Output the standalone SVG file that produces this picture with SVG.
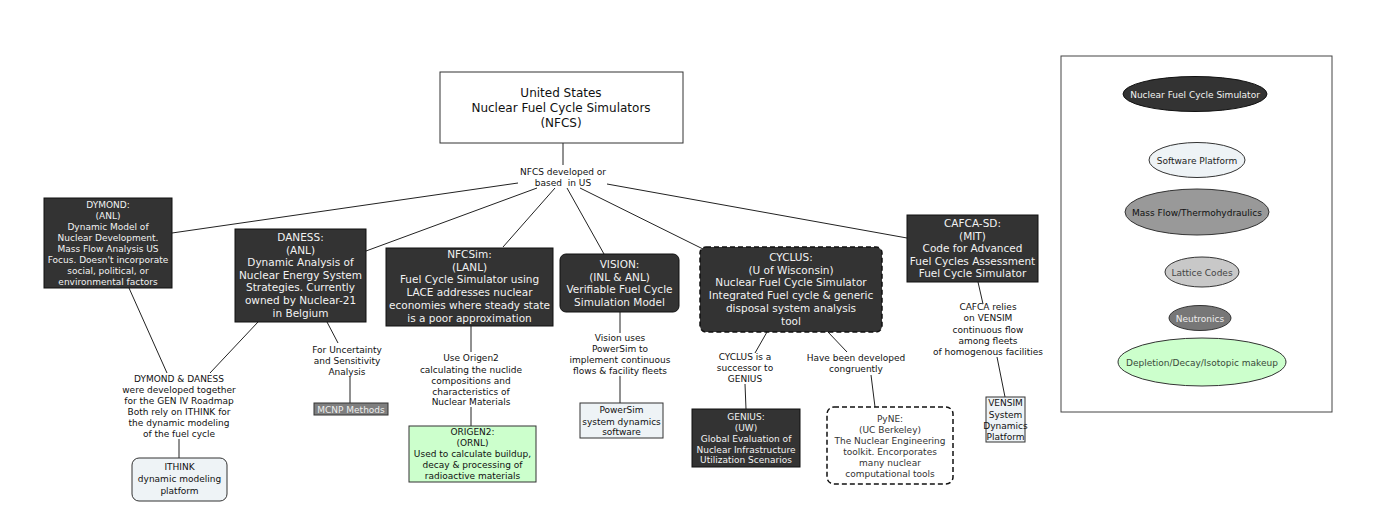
<svg xmlns="http://www.w3.org/2000/svg" width="1378" height="527" viewBox="0 0 1378 527">
<style>
text{font-family:"DejaVu Sans","Liberation Sans",sans-serif;text-anchor:middle}
.big{font-size:10.5px;fill:#f2f2f2}
.sm{font-size:9px;fill:#111}
.smw{font-size:9px;fill:#f2f2f2}
.dark{fill:#333;stroke:#111;stroke-width:1}
.pale{fill:#eef3f6;stroke:#333;stroke-width:1}
.green{fill:#ccffcc;stroke:#333;stroke-width:1}
.dash{stroke-dasharray:5,3;stroke-width:1.5;stroke:#111}
#connectors line{stroke:#222;stroke-width:1}
</style>
<rect width="1378" height="527" fill="#fff"/>
<g id="connectors">
<line x1="563" y1="143" x2="563" y2="165"/>
<line x1="518" y1="183" x2="172" y2="233"/>
<line x1="537" y1="188" x2="366" y2="251"/>
<line x1="555" y1="188" x2="503" y2="247"/>
<line x1="567" y1="188" x2="604" y2="254"/>
<line x1="580" y1="188" x2="703" y2="249"/>
<line x1="607" y1="184" x2="907" y2="238"/>
<line x1="129" y1="288" x2="167" y2="373"/>
<line x1="258" y1="322" x2="210" y2="373"/>
<line x1="327" y1="322" x2="338" y2="343"/>
<line x1="350" y1="377" x2="350" y2="403"/>
<line x1="179" y1="439" x2="179" y2="458"/>
<line x1="471" y1="326" x2="471" y2="352"/>
<line x1="471" y1="407" x2="471" y2="426"/>
<line x1="620" y1="312" x2="620" y2="333"/>
<line x1="620" y1="376" x2="620" y2="403"/>
<line x1="767" y1="332" x2="755" y2="353"/>
<line x1="745" y1="384" x2="746" y2="409"/>
<line x1="828" y1="332" x2="847" y2="352"/>
<line x1="871" y1="375" x2="875" y2="407"/>
<line x1="978" y1="282" x2="983" y2="304"/>
<line x1="997" y1="357" x2="1005" y2="397"/>
</g>
<g id="root">
<rect x="440" y="72" width="243" height="71" fill="#fff" stroke="#333"/>
<text x="561" y="97" style="font-size:12px;fill:#111">United States</text>
<text x="561" y="112" style="font-size:12px;fill:#111">Nuclear Fuel Cycle Simulators</text>
<text x="561" y="127" style="font-size:12px;fill:#111">(NFCS)</text>
</g>
<g id="lbl-nfcs">
<text class="sm" x="563" y="175">NFCS developed or</text>
<text class="sm" x="563" y="186" style="white-space:pre">based  in US</text>
</g>
<g id="dymond">
<rect class="dark" x="44" y="198" width="128" height="90"/>
<text class="smw" x="108" y="208">DYMOND:</text>
<text class="smw" x="108" y="219">(ANL)</text>
<text class="smw" x="108" y="230">Dynamic Model of</text>
<text class="smw" x="108" y="241">Nuclear Development.</text>
<text class="smw" x="108" y="252">Mass Flow Analysis US</text>
<text class="smw" x="108" y="263">Focus. Doesn't incorporate</text>
<text class="smw" x="108" y="274">social, political, or</text>
<text class="smw" x="108" y="285">environmental factors</text>
</g>
<g id="daness">
<rect class="dark" x="235" y="229" width="131" height="93"/>
<text class="big" x="300.5" y="241">DANESS:</text>
<text class="big" x="300.5" y="253.6">(ANL)</text>
<text class="big" x="300.5" y="266.2">Dynamic Analysis of</text>
<text class="big" x="300.5" y="278.8">Nuclear Energy System</text>
<text class="big" x="300.5" y="291.4">Strategies. Currently</text>
<text class="big" x="300.5" y="304">owned by Nuclear-21</text>
<text class="big" x="300.5" y="316.6">in Belgium</text>
</g>
<g id="nfcsim">
<rect class="dark" x="386" y="248" width="167" height="78"/>
<text class="big" x="469.5" y="258">NFCSim:</text>
<text class="big" x="469.5" y="270.7">(LANL)</text>
<text class="big" x="469.5" y="283.4">Fuel Cycle Simulator using</text>
<text class="big" x="469.5" y="296.1">LACE addresses nuclear</text>
<text class="big" x="469.5" y="308.8">economies where steady state</text>
<text class="big" x="469.5" y="321.5">is a poor approximation</text>
</g>
<g id="vision">
<rect class="dark" x="560" y="254" width="119" height="58" rx="6"/>
<text class="big" x="619.5" y="268">VISION:</text>
<text class="big" x="619.5" y="280.7">(INL &amp; ANL)</text>
<text class="big" x="619.5" y="293.4">Verifiable Fuel Cycle</text>
<text class="big" x="619.5" y="306.1">Simulation Model</text>
</g>
<g id="cyclus">
<rect class="dark dash" x="700" y="247" width="182" height="85" rx="6"/>
<text class="big" x="791" y="261">CYCLUS:</text>
<text class="big" x="791" y="273.7">(U of Wisconsin)</text>
<text class="big" x="791" y="286.4">Nuclear Fuel Cycle Simulator</text>
<text class="big" x="791" y="299.1">Integrated Fuel cycle &amp; generic</text>
<text class="big" x="791" y="311.8">disposal system analysis</text>
<text class="big" x="791" y="324.5">tool</text>
</g>
<g id="cafca">
<rect class="dark" x="907" y="215" width="131" height="67"/>
<text class="big" x="972.5" y="227">CAFCA-SD:</text>
<text class="big" x="972.5" y="239.6">(MIT)</text>
<text class="big" x="972.5" y="252.2">Code for Advanced</text>
<text class="big" x="972.5" y="264.8">Fuel Cycles Assessment</text>
<text class="big" x="972.5" y="277.4">Fuel Cycle Simulator</text>
</g>
<g id="lbl-dd">
<text class="sm" x="179" y="382">DYMOND &amp; DANESS</text>
<text class="sm" x="179" y="393">were developed together</text>
<text class="sm" x="179" y="404">for the GEN IV Roadmap</text>
<text class="sm" x="179" y="415">Both rely on ITHINK for</text>
<text class="sm" x="179" y="426">the dynamic modeling</text>
<text class="sm" x="179" y="437">of the fuel cycle</text>
</g>
<g id="ithink">
<rect class="pale" x="132" y="458" width="95" height="43" rx="7"/>
<text class="sm" x="179.5" y="470">ITHINK</text>
<text class="sm" x="179.5" y="482">dynamic modeling</text>
<text class="sm" x="179.5" y="494">platform</text>
</g>
<g id="lbl-unc">
<text class="sm" x="347" y="353">For Uncertainty</text>
<text class="sm" x="347" y="364">and Sensitivity</text>
<text class="sm" x="347" y="375">Analysis</text>
</g>
<g id="mcnp">
<rect x="314" y="403" width="74" height="12" fill="#7f7f7f" stroke="#333"/>
<text class="sm" x="351" y="412.5" style="fill:#eee">MCNP Methods</text>
</g>
<g id="lbl-origen">
<text class="sm" x="471" y="361">Use Origen2</text>
<text class="sm" x="471" y="372.5">calculating the nuclide</text>
<text class="sm" x="471" y="384">compositions and</text>
<text class="sm" x="471" y="395">characteristics of</text>
<text class="sm" x="471" y="405">Nuclear Materials</text>
</g>
<g id="origen2">
<rect class="green" x="409" y="426" width="127" height="56"/>
<text class="sm" x="472.5" y="434.5">ORIGEN2:</text>
<text class="sm" x="472.5" y="446">(ORNL)</text>
<text class="sm" x="472.5" y="457">Used to calculate buildup,</text>
<text class="sm" x="472.5" y="468">decay &amp; processing of</text>
<text class="sm" x="472.5" y="479">radioactive materials</text>
</g>
<g id="lbl-vision">
<text class="sm" x="620" y="341">Vision uses</text>
<text class="sm" x="620" y="352">PowerSim to</text>
<text class="sm" x="620" y="363">implement continuous</text>
<text class="sm" x="620" y="374">flows &amp; facility fleets</text>
</g>
<g id="powersim">
<rect class="pale" x="580" y="403" width="83" height="35"/>
<text class="sm" x="621.5" y="413">PowerSim</text>
<text class="sm" x="621.5" y="424.5">system dynamics</text>
<text class="sm" x="621.5" y="435">software</text>
</g>
<g id="lbl-succ">
<text class="sm" x="745" y="360">CYCLUS is a</text>
<text class="sm" x="745" y="371">successor to</text>
<text class="sm" x="745" y="382">GENIUS</text>
</g>
<g id="genius">
<rect class="dark" x="692" y="409" width="108" height="58"/>
<text class="smw" x="746" y="420">GENIUS:</text>
<text class="smw" x="746" y="430.5">(UW)</text>
<text class="smw" x="746" y="441.5">Global Evaluation of</text>
<text class="smw" x="746" y="452.5">Nuclear Infrastructure</text>
<text class="smw" x="746" y="463">Utilization Scenarios</text>
</g>
<g id="lbl-cong">
<text class="sm" x="856" y="361">Have been developed</text>
<text class="sm" x="856" y="372">congruently</text>
</g>
<g id="pyne">
<rect x="827" y="407" width="126" height="77" rx="7" fill="#fff" class="dash"/>
<text class="sm" x="890" y="422" style="fill:#333">PyNE:</text>
<text class="sm" x="890" y="432.5" style="fill:#333">(UC Berkeley)</text>
<text class="sm" x="890" y="443.5" style="fill:#333">The Nuclear Engineering</text>
<text class="sm" x="890" y="454.5" style="fill:#333">toolkit. Encorporates</text>
<text class="sm" x="890" y="465.5" style="fill:#333">many nuclear</text>
<text class="sm" x="890" y="476.5" style="fill:#333">computational tools</text>
</g>
<g id="lbl-cafca">
<text class="sm" x="988" y="310">CAFCA relies</text>
<text class="sm" x="988" y="321">on VENSIM</text>
<text class="sm" x="988" y="333">continuous flow</text>
<text class="sm" x="988" y="344">among fleets</text>
<text class="sm" x="988" y="355">of homogenous facilities</text>
</g>
<g id="vensim">
<rect class="pale" x="986" y="397" width="39" height="45"/>
<text class="sm" x="1005.5" y="406">VENSIM</text>
<text class="sm" x="1005.5" y="417.5">System</text>
<text class="sm" x="1005.5" y="429">Dynamics</text>
<text class="sm" x="1005.5" y="440">Platform</text>
</g>
<g id="legend">
<rect x="1061" y="56" width="271" height="356" fill="#fff" stroke="#444"/>
<ellipse cx="1195" cy="94" rx="72" ry="17.5" fill="#333" stroke="#111"/>
<text class="sm" x="1195" y="97.5" style="fill:#f2f2f2">Nuclear Fuel Cycle Simulator</text>
<ellipse cx="1197" cy="160" rx="48" ry="17.5" fill="#eef3f6" stroke="#333"/>
<text class="sm" x="1197" y="163.5" style="fill:#222">Software Platform</text>
<ellipse cx="1197" cy="212" rx="72" ry="23" fill="#999" stroke="#333"/>
<text class="sm" x="1197" y="215.5" style="fill:#111">Mass Flow/Thermohydraulics</text>
<ellipse cx="1202" cy="272" rx="37" ry="15" fill="#c8c8c8" stroke="#333"/>
<text class="sm" x="1202" y="275.5" style="fill:#444">Lattice Codes</text>
<ellipse cx="1200" cy="318" rx="31" ry="12.5" fill="#777" stroke="#333"/>
<text class="sm" x="1200" y="321.5" style="fill:#eee">Neutronics</text>
<ellipse cx="1202" cy="362" rx="84" ry="24" fill="#ccffcc" stroke="#333"/>
<text class="sm" x="1202" y="365.5" style="fill:#3a4a3a">Depletion/Decay/Isotopic makeup</text>
</g>
</svg>
